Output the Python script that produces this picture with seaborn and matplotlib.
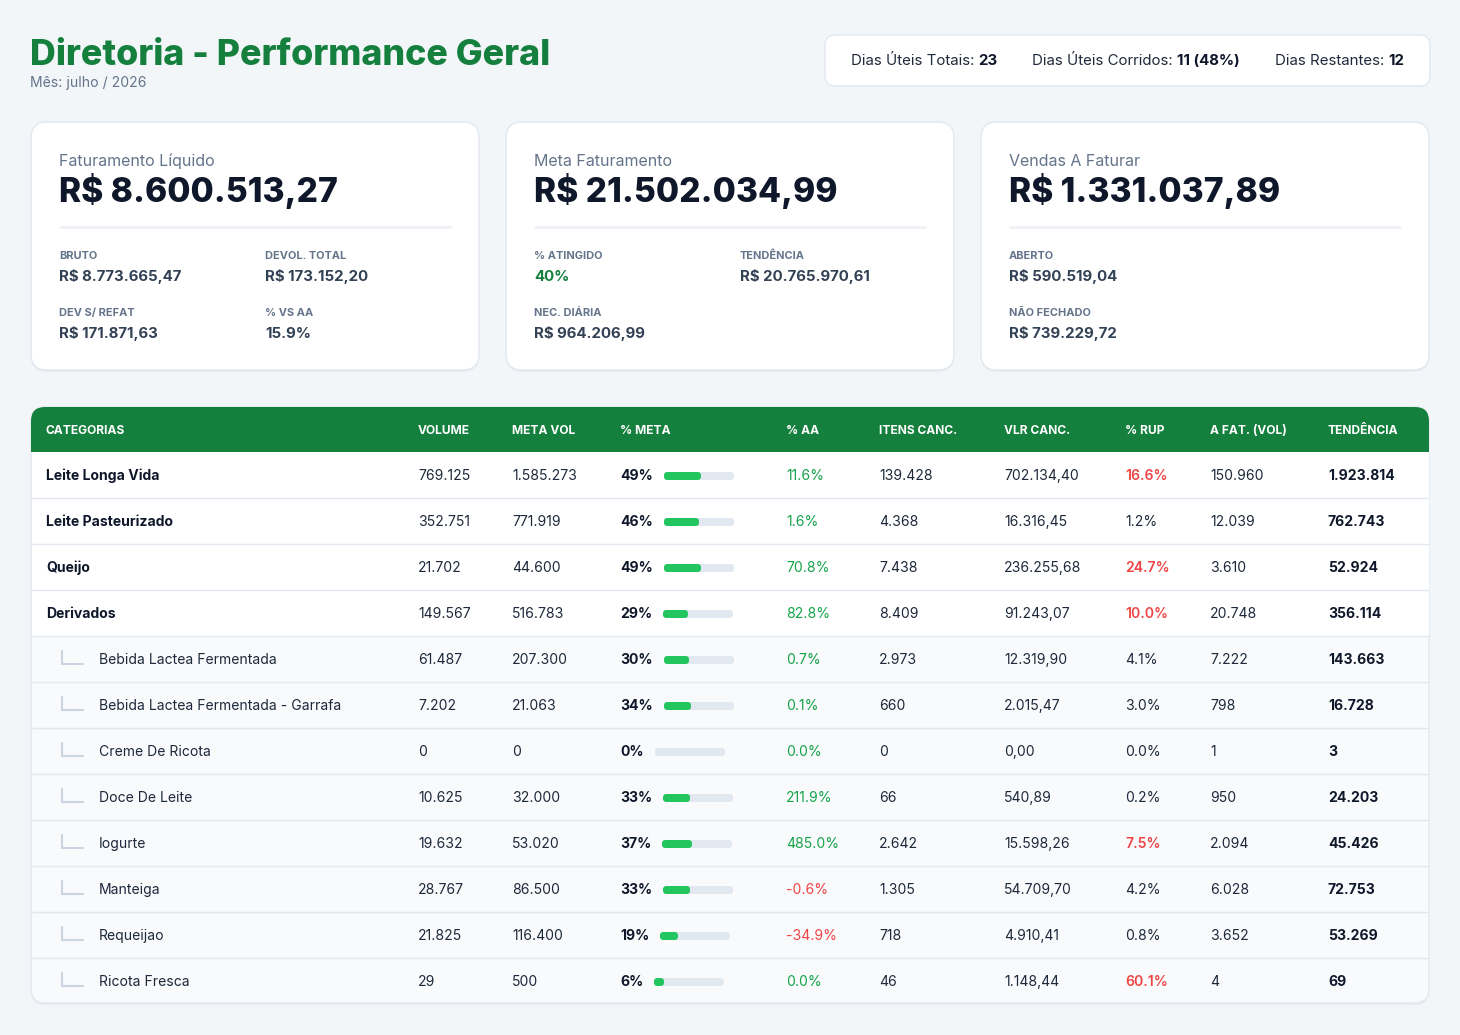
import matplotlib
matplotlib.use("Agg")
import matplotlib.pyplot as plt
from matplotlib.patches import FancyBboxPatch, Rectangle
import seaborn as sns
import pandas as pd

# ---------------- data ----------------
title = "Diretoria - Performance Geral"
subtitle = "Mês: julho / 2026"
days_labels = ["Dias Úteis Totais: ", "Dias Úteis Corridos: ", "Dias Restantes: "]
days_values = ["23", "11 (48%)", "12"]

kpi_titles = ["Faturamento Líquido", "Meta Faturamento", "Vendas A Faturar"]
kpi_values = ["R$ 8.600.513,27", "R$ 21.502.034,99", "R$ 1.331.037,89"]
kpi_sub_labels = [["BRUTO", "DEVOL. TOTAL", "DEV S/ REFAT", "% VS AA"],
                  ["% ATINGIDO", "TENDÊNCIA", "NEC. DIÁRIA", None],
                  ["ABERTO", None, "NÃO FECHADO", None]]
kpi_sub_values = [["R$ 8.773.665,47", "R$ 173.152,20", "R$ 171.871,63", "15.9%"],
                  ["40%", "R$ 20.765.970,61", "R$ 964.206,99", None],
                  ["R$ 590.519,04", None, "R$ 739.229,72", None]]

columns = ["CATEGORIAS", "VOLUME", "META VOL", "% META", "% AA", "ITENS CANC.",
           "VLR CANC.", "% RUP", "A FAT. (VOL)", "TENDÊNCIA"]
categories = ["Leite Longa Vida", "Leite Pasteurizado", "Queijo", "Derivados",
              "Bebida Lactea Fermentada", "Bebida Lactea Fermentada - Garrafa",
              "Creme De Ricota", "Doce De Leite", "Iogurte", "Manteiga",
              "Requeijao", "Ricota Fresca"]
is_sub = [False, False, False, False, True, True, True, True, True, True, True, True]
volume = [769125, 352751, 21702, 149567, 61487, 7202, 0, 10625, 19632, 28767, 21825, 29]
meta_vol = [1585273, 771919, 44600, 516783, 207300, 21063, 0, 32000, 53020, 86500, 116400, 500]
pct_meta = [49, 46, 49, 29, 30, 34, 0, 33, 37, 33, 19, 6]
pct_aa = [11.6, 1.6, 70.8, 82.8, 0.7, 0.1, 0.0, 211.9, 485.0, -0.6, -34.9, 0.0]
itens_canc = [139428, 4368, 7438, 8409, 2973, 660, 0, 66, 2642, 1305, 718, 46]
vlr_canc = [702134.40, 16316.45, 236255.68, 91243.07, 12319.90, 2015.47, 0.00,
            540.89, 15598.26, 54709.70, 4910.41, 1148.44]
pct_rup = [16.6, 1.2, 24.7, 10.0, 4.1, 3.0, 0.0, 0.2, 7.5, 4.2, 0.8, 60.1]
a_fat_vol = [150960, 12039, 3610, 20748, 7222, 798, 1, 950, 2094, 6028, 3652, 4]
tendencia = [1923814, 762743, 52924, 356114, 143663, 16728, 3, 24203, 45426, 72753, 53269, 69]


def fmt_int(v):
    return f"{v:,}".replace(",", ".")


def fmt_money(v):
    s = f"{v:,.2f}"
    return s.replace(",", "X").replace(".", ",").replace("X", ".")


# ---------------- style ----------------
sns.set_theme(style="white")
plt.rcParams["font.family"] = ["Inter", "DejaVu Sans"]

W, H = 1460, 1035
BG = "#f3f6f9"
GREEN = "#15803d"
GREEN_TXT = "#16a34a"
RED = "#ef4444"
DARK = "#0f172a"
TXT = "#1e293b"
GRAY = "#64748b"
BORDER = "#e2e8f0"
TRACK = "#e2e8f0"
FILL = "#22c55e"


def pt(px):
    return px * 0.72


fig = plt.figure(figsize=(W / 100, H / 100), dpi=100, facecolor=BG)
ax = fig.add_axes([0, 0, 1, 1])
ax.set_xlim(0, W)
ax.set_ylim(H, 0)
ax.axis("off")
R = fig.canvas.get_renderer()


def rbox(x0, y0, x1, y1, r, fc, ec="none", lw=0, z=1):
    p = FancyBboxPatch((x0 + r, y0 + r), (x1 - x0) - 2 * r, (y1 - y0) - 2 * r,
                       boxstyle=f"round,pad={r}", fc=fc, ec=ec, lw=lw, zorder=z)
    ax.add_patch(p)
    return p


def txt(x, y, s, size, color=TXT, weight="normal", ha="left", z=5):
    # y is the visual centre of the capital letters; place on baseline
    return ax.text(x, y + 0.364 * size, s, fontsize=pt(size), color=color,
                   fontweight=weight, ha=ha, va="baseline", zorder=z)


def width(t):
    return t.get_window_extent(renderer=R).width


# ---------------- header ----------------
txt(30, 52, title, 35.8, GREEN, 800)
txt(30, 82, subtitle, 14, GRAY)

rbox(825, 35, 1430, 86, 10, "white", BORDER, 1)
day_x = [851, 1032, 1275]
for x, lab, val in zip(day_x, days_labels, days_values):
    t = txt(x, 60, lab, 15, TXT)
    txt(x + width(t), 60, val, 15, DARK, "bold")

# ---------------- KPI cards ----------------
card_x = [31, 506, 981]
for ci, cx in enumerate(card_x):
    rbox(cx, 124, cx + 448, 372, 16, "#e9edf2", z=1)
    rbox(cx, 122, cx + 448, 370, 16, "white", BORDER, 1, z=2)
    lx = cx + 28
    txt(lx, 160, kpi_titles[ci], 16, GRAY)
    txt(lx, 190, kpi_values[ci], 33.6, DARK, 800)
    ax.plot([lx, cx + 420], [227, 227], color="#eef2f6", lw=2, zorder=3,
            solid_capstyle="butt")
    for k in range(4):
        lab = kpi_sub_labels[ci][k]
        if lab is None:
            continue
        sx = lx + (206 if k % 2 else 0)
        sy = 255 if k < 2 else 312
        txt(sx, sy, lab, 11, GRAY, "bold")
        val = kpi_sub_values[ci][k]
        col = GREEN if val.endswith("%") and ci == 1 else "#334155"
        txt(sx, sy + 21, val, 15, col, "bold")

# ---------------- table ----------------
T0, T1, TX0, TX1 = 407, 1003, 31, 1429
HDR = 452
ROW_H = 46
rbox(TX0, T0 + 2, TX1, T1 + 2, 14, "#e6ebf0", z=1)
rbox(TX0, T0, TX1, T1, 14, "#f8fafc", BORDER, 1, z=2)
first_sub = is_sub.index(True)
ax.add_patch(Rectangle((TX0 + 0.5, HDR), TX1 - TX0 - 1, ROW_H * first_sub,
                       fc="white", ec="none", zorder=2.5))
rbox(TX0, T0, TX1, HDR, 14, GREEN, z=3)
ax.add_patch(Rectangle((TX0, T0 + 20), TX1 - TX0, HDR - T0 - 20, fc=GREEN,
                       ec="none", zorder=3))

col_x = [46, 418, 512, 620, 786, 879, 1004, 1125, 1210, 1328]
for x, c in zip(col_x, columns):
    txt(x, 430, c, 12, "white", "bold")

n = len(categories)
for i in range(n):
    yc = HDR + ROW_H * i + ROW_H / 2
    if i < n - 1:
        ax.plot([TX0 + 1, TX1 - 1], [HDR + ROW_H * (i + 1)] * 2, color=BORDER,
                lw=1, zorder=3)
    if is_sub[i]:
        ax.plot([62, 62, 83], [yc - 8, yc + 5, yc + 5],
                color="#cbd5e1", lw=1.5, zorder=4, solid_joinstyle="miter")
        txt(99, yc, categories[i], 14, TXT)
    else:
        txt(46, yc, categories[i], 14, DARK, "bold")
    txt(col_x[1], yc, fmt_int(volume[i]), 14, TXT)
    txt(col_x[2], yc, fmt_int(meta_vol[i]), 14, TXT)
    tp = txt(col_x[3], yc, f"{pct_meta[i]}%", 14, DARK, "bold")
    aa = pct_aa[i]
    txt(col_x[4], yc, f"{aa:.1f}%", 14, RED if aa < 0 else GREEN_TXT)
    txt(col_x[5], yc, fmt_int(itens_canc[i]), 14, TXT)
    txt(col_x[6], yc, fmt_money(vlr_canc[i]), 14, TXT)
    rp = pct_rup[i]
    if rp > 5:
        txt(col_x[7], yc, f"{rp:.1f}%", 14, RED, "semibold")
    else:
        txt(col_x[7], yc, f"{rp:.1f}%", 14, TXT)
    txt(col_x[8], yc, fmt_int(a_fat_vol[i]), 14, TXT)
    txt(col_x[9], yc, fmt_int(tendencia[i]), 14, DARK, "bold")

    # progress bar via seaborn (pill shape via round-joined edge)
    bx = col_x[3] + width(tp) + 11
    edge = 6  # px of rounded edge around the bar body
    bw, bh = 70 - edge, 8 - edge
    bax = fig.add_axes([(bx + edge / 2) / W, 1 - (yc + 0.5 + bh / 2) / H, bw / W, bh / H])
    df = pd.DataFrame({"row": ["r"], "track": [100], "pct": [pct_meta[i]]})
    sns.barplot(data=df, x="track", y="row", orient="h", color=TRACK, width=1,
                saturation=1, ax=bax)
    if pct_meta[i] > 0:
        sns.barplot(data=df, x="pct", y="row", orient="h", color=FILL, width=1,
                    saturation=1, ax=bax)
    for k, p in enumerate(bax.patches):
        p.set_edgecolor(p.get_facecolor())
        p.set_linewidth(pt(edge))
        p.set_joinstyle("round")
        p.set_clip_on(False)
        p.set_zorder(2 + k)
    bax.set_xlim(0, 100)
    bax.set_ylim(0.5, -0.5)
    bax.axis("off")
    bax.patch.set_alpha(0)

fig.savefig("out.png", dpi=100, facecolor=BG)
